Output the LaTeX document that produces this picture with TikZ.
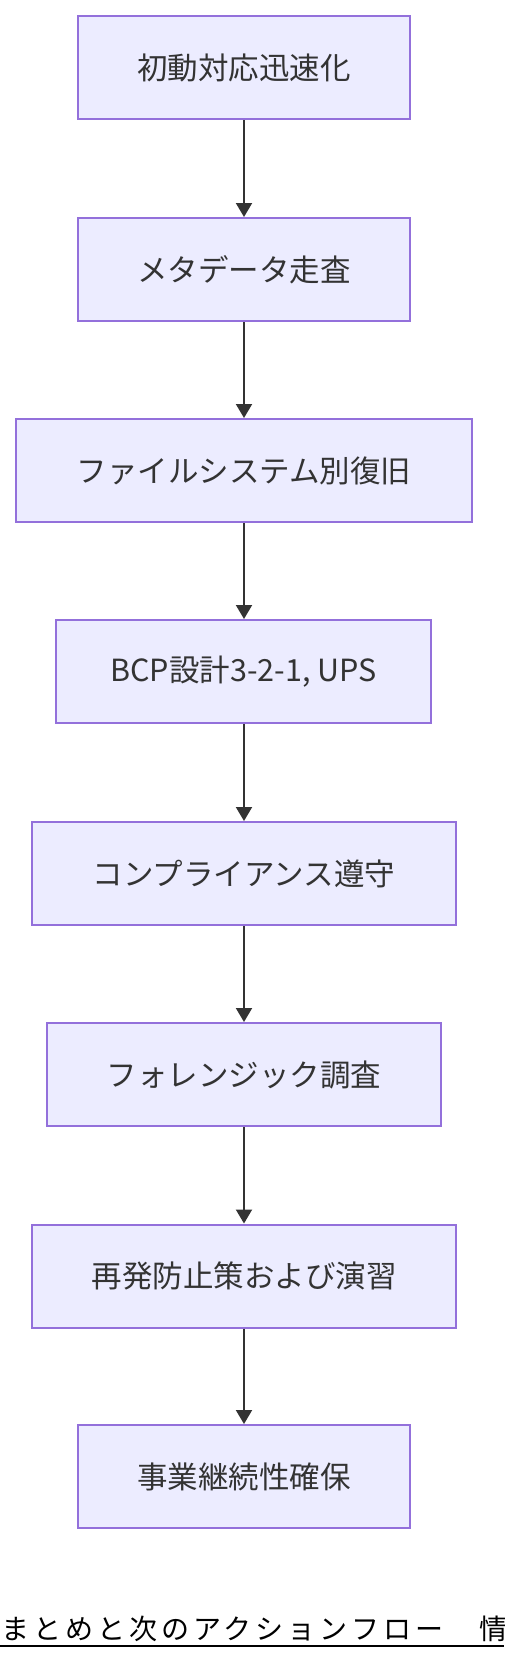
\documentclass[tikz,border=0pt]{standalone}
\usepackage{fontspec}
\setmainfont{Noto Sans CJK JP}
\newfontfamily\capfont[LetterSpace=14.3]{Noto Sans CJK JP}
\usetikzlibrary{arrows.meta}
\definecolor{boxfill}{HTML}{ECECFF}
\definecolor{boxline}{HTML}{9370DB}
\definecolor{ink}{HTML}{333333}
\tikzset{
  flowbox/.style={draw=boxline, fill=boxfill, line width=2pt, minimum height=103pt,
    inner sep=0pt, text=ink, font=\fontsize{30.5}{36}\selectfont},
  flowarrow/.style={draw=ink, line width=2pt, -{Triangle[width=16pt,length=14pt]}},
}
\begin{document}
\begin{tikzpicture}[x=1pt,y=-1pt]
\useasboundingbox (0,0) rectangle (504,1660);
\clip (0,0) rectangle (504,1660);
\node[flowbox, minimum width=332pt] (n1) at (244,67.5) {初動対応迅速化};
\node[flowbox, minimum width=332pt] (n2) at (244,269.5) {メタデータ走査};
\node[flowbox, minimum width=456pt] (n3) at (244,470.5) {ファイルシステム別復旧};
\node[flowbox, minimum width=375pt] (n4) at (243.5,671.5) {BCP設計3-2-1, UPS};
\node[flowbox, minimum width=424pt] (n5) at (244,873.5) {コンプライアンス遵守};
\node[flowbox, minimum width=394pt] (n6) at (244,1074.5) {フォレンジック調査};
\node[flowbox, minimum width=424pt] (n7) at (244,1276) {再発防止策および演習};
\node[flowbox, minimum width=332pt] (n8) at (244,1476.5) {事業継続性確保};
\foreach \a/\b in {n1/n2,n2/n3,n3/n4,n4/n5,n5/n6,n6/n7,n7/n8}
  \draw[flowarrow] (\a.south -| 244,0) -- (\b.north -| 244,0);
\node[anchor=base west, inner sep=0pt, text=black, font=\capfont\fontsize{28}{32}\selectfont]
  (cap) at (1,1639.5) {まとめと次のアクションフロー　情};
\coordinate (ulL) at (0,1646);
\coordinate (ulR) at (504,1646);
\draw[black, line width=2.5pt] (ulL) -- (ulR);
\end{tikzpicture}
\end{document}
